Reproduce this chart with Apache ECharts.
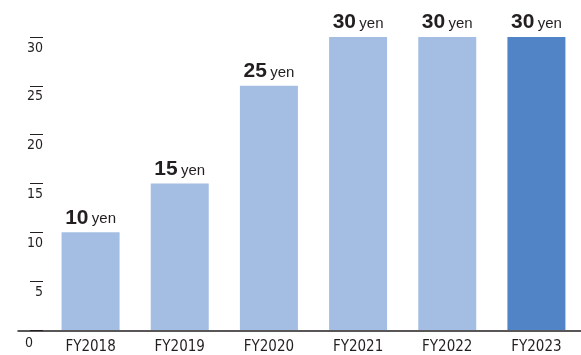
<!DOCTYPE html>
<html>
<head>
<meta charset="utf-8">
<script src="https://cdn.jsdelivr.net/npm/echarts@6/dist/echarts.min.js"></script>
<style>html,body{margin:0;padding:0;background:#fff;}#c{width:581px;height:355px;}</style>
</head>
<body>
<div id="c"></div>
<script>
const categories = ['FY2018', 'FY2019', 'FY2020', 'FY2021', 'FY2022', 'FY2023'];
const dividends = [10, 15, 25, 30, 30, 30];
const unit = 'yen';
const yTicks = [0, 5, 10, 15, 20, 25, 30];
const highlightIndex = 5;

const textColor = '#231f20';
const narrow = "'Liberation Sans Narrow', 'DejaVu Sans Condensed', 'Liberation Sans', sans-serif";
const chart = echarts.init(document.getElementById('c'), null, {renderer: 'canvas'});

chart.setOption({
  animation: false,
  backgroundColor: '#fff',
  grid: [
    {left: 46, width: 540, top: 37, bottom: 24},
    {left: 18, right: 0, top: 37, bottom: 24}
  ],
  xAxis: [
    {
      type: 'category', gridIndex: 0, data: categories,
      axisLine: {show: false}, axisTick: {show: false},
      axisLabel: {color: textColor, fontFamily: narrow, fontSize: 15, margin: 10}
    },
    {
      type: 'category', gridIndex: 1, data: [''],
      axisLine: {show: true, lineStyle: {color: textColor, width: 1.5}},
      axisTick: {show: false}, axisLabel: {show: false}
    }
  ],
  yAxis: [
    {
      type: 'value', gridIndex: 0, min: yTicks[0], max: yTicks[yTicks.length - 1], interval: 5,
      offset: 3,
      splitLine: {show: false},
      axisLine: {show: false},
      axisTick: {show: true, length: 13, lineStyle: {color: textColor, width: 1}},
      axisLabel: {
        color: textColor, fontFamily: narrow, fontSize: 14, margin: 0,
        verticalAlign: 'top', padding: [4, 0, 0, 0],
        formatter: v => v === 0 ? '{z|0}' : String(v),
        rich: {z: {color: textColor, fontFamily: narrow, fontSize: 14, padding: [2, 10, 0, 0]}}
      }
    },
    {type: 'value', gridIndex: 1, show: false, min: 0, max: 30}
  ],
  series: [{
    type: 'bar',
    xAxisIndex: 0, yAxisIndex: 0,
    barWidth: 58,
    data: dividends.map((v, i) => ({
      value: v,
      itemStyle: {color: i === highlightIndex ? '#5084c6' : '#a4bee3'}
    })),
    label: {
      show: true, position: 'top', distance: 4,
      formatter: p => '{b|' + p.value + '} {u|' + unit + '}',
      rich: {
        b: {fontFamily: "'Liberation Sans', Arial, sans-serif", fontWeight: 'bold', fontSize: 21, color: textColor},
        u: {fontFamily: "'Liberation Sans', Arial, sans-serif", fontSize: 15, color: textColor, padding: [3, 0, 0, 0]}
      }
    }
  }]
});
</script>
</body>
</html>
